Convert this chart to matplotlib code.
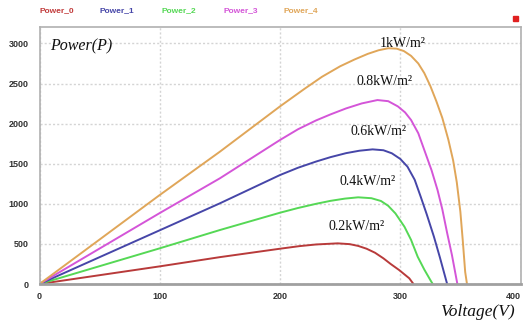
import matplotlib
matplotlib.use("Agg")
import matplotlib.pyplot as plt
from matplotlib.patches import Rectangle

# P-V curves of the PV array at five irradiance levels
series_names = ["Power_0", "Power_1", "Power_2", "Power_3", "Power_4"]
name_colors = ["#c23b3b", "#4646a8", "#55d855", "#d455d8", "#e0a659"]
irradiance_labels = ["0.2kW/m²", "0.4kW/m²", "0.6kW/m²", "0.8kW/m²", "1kW/m²"]
curve_colors = ["#b83a3a", "#55d855", "#4646a8", "#d455d8", "#e0a659"]

# 0.2 kW/m2
v0 = [0, 100, 150, 200, 216, 230, 248, 258, 265, 272, 279, 286, 292, 299, 303.5, 307.5, 311]
p0 = [0, 220, 335, 440, 472, 493, 507, 497, 475, 440, 390, 320, 250, 175, 120, 71, 0]

# 0.4 kW/m2
v1 = [0, 100, 150, 200, 215, 230, 242, 254, 265, 276, 284, 290, 296, 303.5, 309, 314.5, 320, 325, 327]
p1 = [0, 445, 673, 889, 948, 1000, 1037, 1065, 1081, 1070, 1035, 975, 880, 714, 550, 340, 180, 50, 0]

# 0.6 kW/m2
v2 = [0, 100, 150, 200, 215, 230, 242, 255, 266, 277, 286, 293, 300, 306, 312, 317, 322, 328, 333, 337, 339]
p2 = [0, 670, 1006, 1359, 1450, 1527, 1582, 1632, 1662, 1679, 1668, 1630, 1560, 1463, 1300, 1089, 870, 590, 330, 110, 0]

# 0.8 kW/m2
v3 = [0, 100, 150, 200, 215, 230, 242, 255, 268, 281, 290, 298, 304, 309, 315, 320, 326, 331, 335, 339, 343, 346, 347.5]
p3 = [0, 885, 1318, 1796, 1930, 2040, 2115, 2190, 2252, 2294, 2280, 2215, 2140, 2045, 1880, 1671, 1420, 1172, 930, 636, 360, 120, 0]

# 1 kW/m2
v4 = [0, 100, 150, 200, 220, 235, 250, 262, 273, 282, 290, 297, 303, 309, 315, 320, 325, 330, 335, 340, 344, 347, 350, 352, 354, 355.5]
p4 = [0, 1110, 1650, 2215, 2430, 2585, 2715, 2800, 2870, 2915, 2940, 2935, 2905, 2845, 2750, 2630, 2470, 2280, 2070, 1800, 1540, 1270, 900, 540, 150, 0]

# where each irradiance label sits (voltage, power)
label_v = [264, 273, 282, 286.5, 302]
label_p = [714, 1284, 1907, 2520, 3005]

x_ticks = [0, 100, 200, 300, 400]
y_ticks = [0, 500, 1000, 1500, 2000, 2500, 3000]

voltages = [v0, v1, v2, v3, v4]
powers = [p0, p1, p2, p3, p4]

fig = plt.figure(figsize=(5.24, 3.22), dpi=100)
ax = fig.add_axes([39.5 / 524, 38 / 322, 481 / 524, 257 / 322])

for v, p, c in zip(voltages, powers, curve_colors):
    ax.plot(v, p, color=c, linewidth=1.4, solid_capstyle="round", solid_joinstyle="round")

serif = "Liberation Serif"
for lv, lp, txt in zip(label_v, label_p, irradiance_labels):
    ax.text(lv, lp, txt, ha="center", va="center", fontsize=10, family=serif, color="#111111")

ax.text(0.022, 0.955, "Power(P)", transform=ax.transAxes, ha="left", va="top",
        fontsize=11.5, family=serif, style="italic", color="#111111")
fig.text(515 / 524, 1 - 312 / 322, "Voltage(V)", ha="right", va="center",
         fontsize=12.5, family=serif, style="italic", color="#111111")

ax.set_xlim(0, 400)
ax.set_ylim(0, 3205)
ax.set_xticks(x_ticks)
ax.set_yticks(y_ticks)
ax.tick_params(length=0, labelsize=6.5, labelcolor="#333333")
ax.tick_params(axis="x", pad=6)
ax.tick_params(axis="y", pad=8)
for lab in ax.get_xticklabels() + ax.get_yticklabels():
    lab.set_fontweight("bold")
    lab.set_family("Liberation Sans")
# keep the last x label inside the frame
ax.get_xticklabels()[-1].set_horizontalalignment("right")

ax.grid(True, linestyle=(0, (1.5, 1.5)), color="#d4d4d4", linewidth=1.0)
ax.set_axisbelow(True)
for side in ["left", "right", "top"]:
    ax.spines[side].set_color("#b0b0b0")
    ax.spines[side].set_linewidth(1.2)
ax.spines["bottom"].set_color("#a0a0a0")
ax.spines["bottom"].set_linewidth(2.0)

# coloured series names along the top
name_x = [39, 100, 162, 223, 283]
for nx, name, c in zip(name_x, series_names, name_colors):
    fig.text(nx / 524, 1 - 11 / 322, name, ha="left", va="center", fontsize=6,
             fontweight="bold", family="Liberation Sans", color=c)
fig.add_artist(Rectangle((513 / 524, 1 - 21 / 322), 5 / 524, 5 / 322,
                         transform=fig.transFigure, color="#e02020"))

fig.savefig("out.png", dpi=100)
